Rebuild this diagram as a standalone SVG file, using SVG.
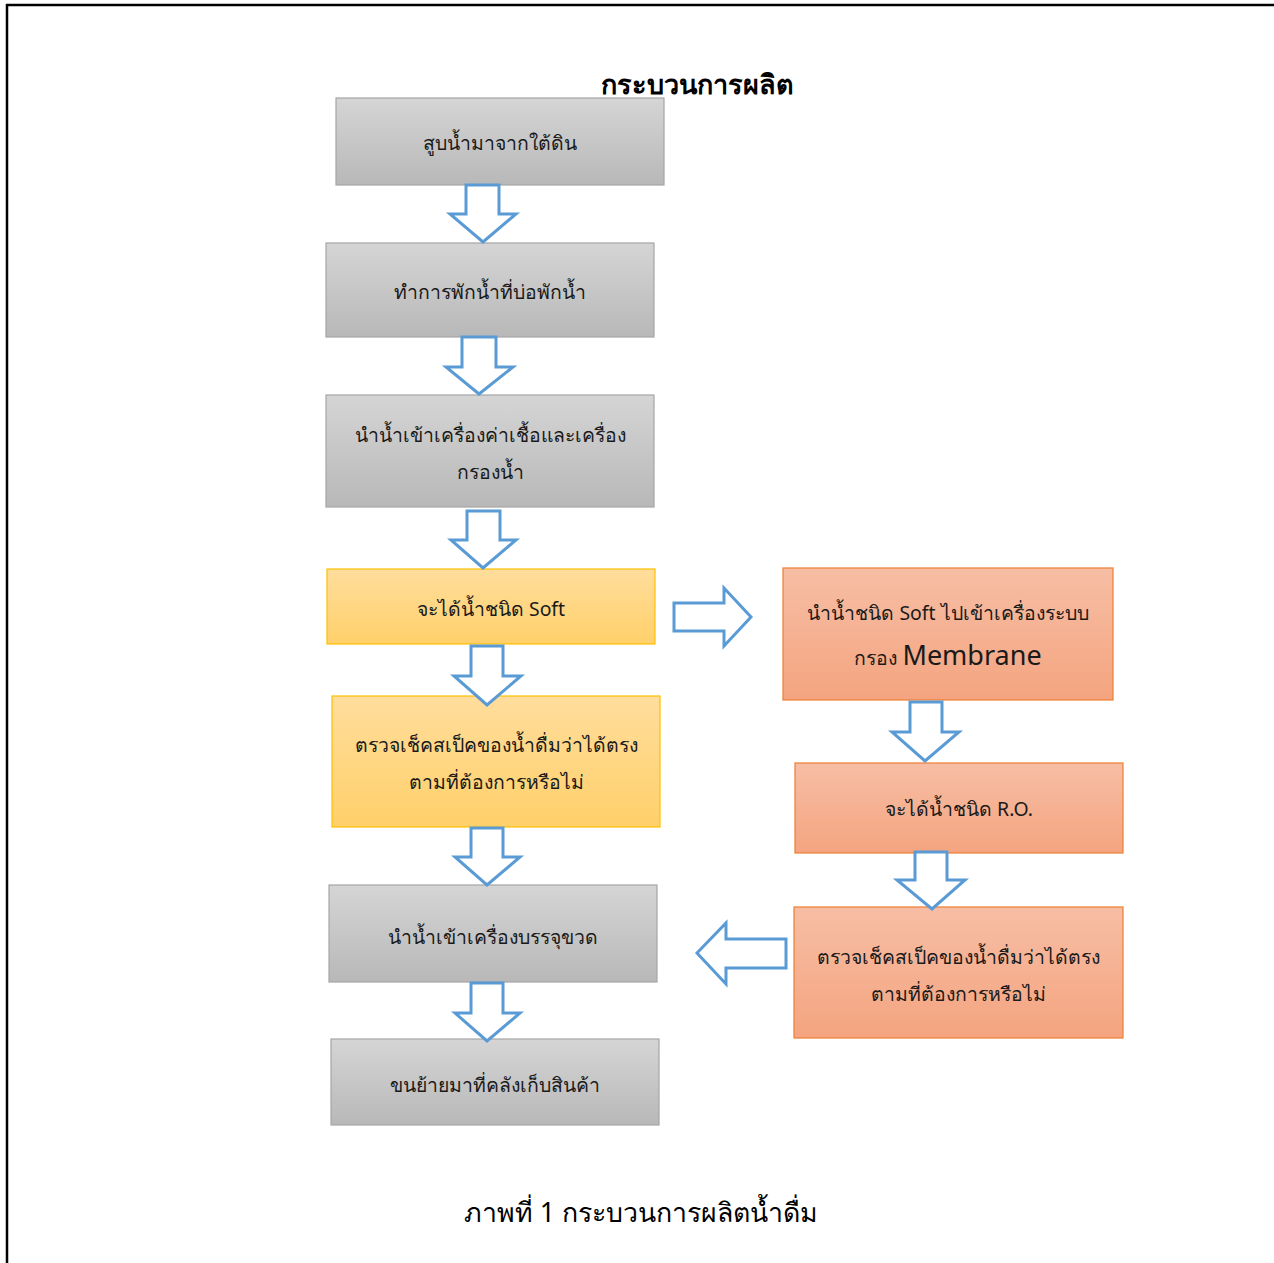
<svg xmlns="http://www.w3.org/2000/svg" width="1274" height="1263" viewBox="0 0 1274 1263">
  <defs>
    <linearGradient id="gGray" x1="0" y1="0" x2="0" y2="1">
      <stop offset="0" stop-color="#d5d5d5"/>
      <stop offset="1" stop-color="#b8b8b8"/>
    </linearGradient>
    <linearGradient id="gGold" x1="0" y1="0" x2="0" y2="1">
      <stop offset="0" stop-color="#ffdd9c"/>
      <stop offset="1" stop-color="#ffd06a"/>
    </linearGradient>
    <linearGradient id="gOrange" x1="0" y1="0" x2="0" y2="1">
      <stop offset="0" stop-color="#f7bea5"/>
      <stop offset="1" stop-color="#f4a47f"/>
    </linearGradient>
  </defs>
  <style>
    .gray { fill: url(#gGray); stroke: #a6a6a6; stroke-width: 1.2; }
    .gold { fill: url(#gGold); stroke: #ffc000; stroke-width: 1.2; }
    .orange { fill: url(#gOrange); stroke: #ed7d31; stroke-width: 1.2; }
    .lbl { font-family: "Noto Sans", "DejaVu Sans", sans-serif; font-size: 19.4px; fill: #1a1a1a; text-anchor: middle; }
    .big { font-size: 27px; }
    .arrow { fill: #ffffff; stroke: #5b9bd5; stroke-width: 3; stroke-linejoin: miter; }
    .title { font-family: "Noto Sans", "DejaVu Sans", sans-serif; font-size: 27px; font-weight: bold; fill: #000; text-anchor: middle; }
    .caption { font-family: "Noto Sans", "DejaVu Sans", sans-serif; font-size: 26.7px; fill: #000; text-anchor: middle; }
  </style>

  <rect width="1274" height="1263" fill="#ffffff"/>
  <!-- page frame -->
  <line x1="6" y1="5" x2="1274" y2="5" stroke="#000" stroke-width="2.5"/>
  <line x1="7" y1="4" x2="7" y2="1263" stroke="#000" stroke-width="2.5"/>

  <text class="title" x="697" y="94">กระบวนการผลิต</text>

  <!-- left column -->
  <g id="n1">
    <rect class="gray" x="336" y="98" width="328" height="87"/>
    <text class="lbl" x="500" y="150">สูบน้ำมาจากใต้ดิน</text>
  </g>
  <g id="n2">
    <rect class="gray" x="326" y="243" width="328" height="94"/>
    <text class="lbl" x="490" y="299">ทำการพักน้ำที่บ่อพักน้ำ</text>
  </g>
  <g id="n3">
    <rect class="gray" x="326" y="395" width="328" height="112"/>
    <text class="lbl" x="490" y="442">นำน้ำเข้าเครื่องค่าเชื้อและเครื่อง</text>
    <text class="lbl" x="490" y="479">กรองน้ำ</text>
  </g>
  <g id="n4">
    <rect class="gold" x="327" y="569" width="328" height="75"/>
    <text class="lbl" x="491" y="616">จะได้น้ำชนิด Soft</text>
  </g>
  <g id="n5">
    <rect class="gold" x="332" y="696" width="328" height="131"/>
    <text class="lbl" x="496" y="752">ตรวจเช็คสเป็คของน้ำดื่มว่าได้ตรง</text>
    <text class="lbl" x="496" y="789">ตามที่ต้องการหรือไม่</text>
  </g>
  <g id="n6">
    <rect class="gray" x="329" y="885" width="328" height="97"/>
    <text class="lbl" x="493" y="944">นำน้ำเข้าเครื่องบรรจุขวด</text>
  </g>
  <g id="n7">
    <rect class="gray" x="331" y="1039" width="328" height="86"/>
    <text class="lbl" x="495" y="1092">ขนย้ายมาที่คลังเก็บสินค้า</text>
  </g>

  <!-- right column -->
  <g id="r1">
    <rect class="orange" x="783" y="568" width="330" height="132"/>
    <text class="lbl" x="948" y="620">นำน้ำชนิด Soft ไปเข้าเครื่องระบบ</text>
    <text class="lbl" x="948" y="665">กรอง <tspan class="big">Membrane</tspan></text>
  </g>
  <g id="r2">
    <rect class="orange" x="795" y="763" width="328" height="90"/>
    <text class="lbl" x="959" y="816">จะได้น้ำชนิด R.O.</text>
  </g>
  <g id="r3">
    <rect class="orange" x="794" y="907" width="329" height="131"/>
    <text class="lbl" x="958" y="964">ตรวจเช็คสเป็คของน้ำดื่มว่าได้ตรง</text>
    <text class="lbl" x="958" y="1001">ตามที่ต้องการหรือไม่</text>
  </g>

  <text class="caption" x="641" y="1222">ภาพที่ 1 กระบวนการผลิตน้ำดื่ม</text>

  <!-- block arrows -->
  <g id="connectors">
    <polygon class="arrow" points="466,185 499,185 499,214 516,214 483,242 450,214 466,214"/>
    <polygon class="arrow" points="462,337 496,337 496,367 513,367 479,394 446,367 462,367"/>
    <polygon class="arrow" points="467,511 500,511 500,540 516,540 483,568 451,540 467,540"/>
    <polygon class="arrow" points="471,646 503,646 503,676 521,676 487,705 454,676 471,676"/>
    <polygon class="arrow" points="471,828 503,828 503,857 520,857 487,885 455,857 471,857"/>
    <polygon class="arrow" points="471,983 503,983 503,1013 520,1013 487,1041 455,1013 471,1013"/>
    <polygon class="arrow" points="674,603 724,603 724,588 751,617 724,646 724,631 674,631"/>
    <polygon class="arrow" points="910,702 942,702 942,732 959,732 925,761 892,732 910,732"/>
    <polygon class="arrow" points="915,852 947,852 947,880 965,880 932,909 897,880 915,880"/>
    <polygon class="arrow" points="786,939 786,968 726,968 726,984 697,953 726,923 726,939"/>
  </g>
</svg>
